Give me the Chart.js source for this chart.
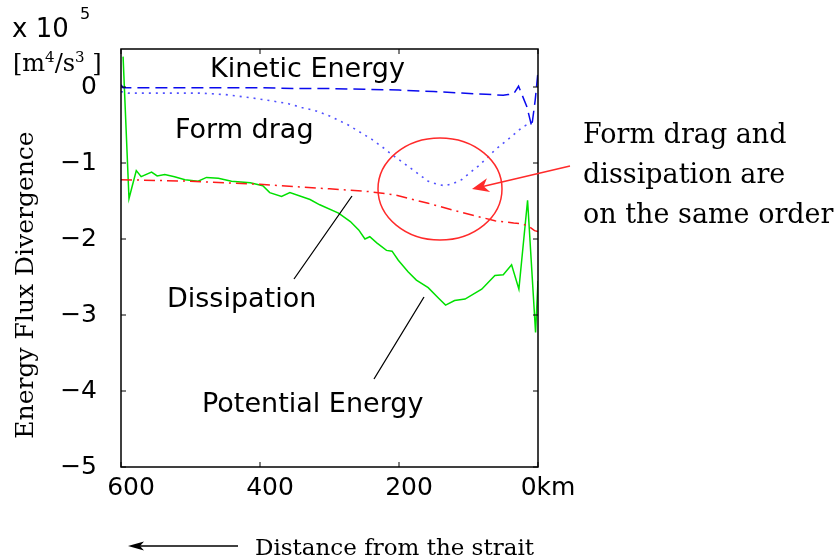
<!DOCTYPE html>
<html>
<head>
<meta charset="utf-8">
<title>Energy Flux Divergence</title>
<script src="https://cdn.jsdelivr.net/npm/chart.js"></script>
<style>
  html, body { margin: 0; padding: 0; background: #fff; }
</style>
</head>
<body>
<canvas id="fluxChart" width="840" height="560"></canvas>
<script>
// distance from the strait (km) and energy flux divergence (x 10^5 m4/s3)
const keDist = [600, 597, 560, 500, 450, 400, 350, 300, 250, 200, 150, 110, 75, 50, 43, 35, 28, 16, 9, 4, 0];
const keVal  = [0.03, -0.01, -0.01, -0.01, -0.01, -0.01, -0.02, -0.02, -0.03, -0.04, -0.06, -0.08, -0.095, -0.11, -0.10, -0.09, 0.01, -0.26, -0.52, -0.17, 0.2];

const fdDist = [600, 590, 540, 486, 450, 414, 385, 359, 340, 321, 300, 273, 255, 239, 224, 210, 195, 177, 158, 145, 134, 122, 110, 98, 86, 74, 62, 50, 38, 28, 21, 12, 8];
const fdVal  = [-0.06, -0.08, -0.08, -0.08, -0.10, -0.14, -0.18, -0.22, -0.27, -0.31, -0.38, -0.50, -0.60, -0.69, -0.79, -0.89, -0.99, -1.11, -1.24, -1.28, -1.30, -1.27, -1.22, -1.13, -1.04, -0.94, -0.83, -0.74, -0.65, -0.57, -0.52, -0.48, -0.46];

const dsDist = [600, 550, 500, 450, 400, 350, 300, 250, 230, 206, 158, 110, 62, 35, 23, 14, 5, 0];
const dsVal  = [-1.22, -1.23, -1.24, -1.26, -1.28, -1.31, -1.34, -1.37, -1.39, -1.42, -1.53, -1.65, -1.76, -1.79, -1.80, -1.83, -1.89, -1.90];

const peDist = [597, 588.5, 584, 578, 571, 556, 548, 537, 523, 508, 489, 477, 460, 441, 414, 396, 386, 369, 357, 328, 314, 287, 270, 258, 249, 242, 232, 218, 210, 201, 187, 175, 158, 143, 133, 120, 105, 81, 62, 50, 38, 27.5, 15, 3.5, 0];
const peVal  = [0.40, -1.47, -1.31, -1.10, -1.18, -1.12, -1.17, -1.15, -1.18, -1.22, -1.24, -1.19, -1.20, -1.24, -1.26, -1.30, -1.39, -1.44, -1.39, -1.48, -1.55, -1.66, -1.77, -1.88, -2.00, -1.97, -2.05, -2.15, -2.16, -2.28, -2.43, -2.54, -2.64, -2.78, -2.87, -2.81, -2.79, -2.66, -2.48, -2.47, -2.34, -2.66, -1.49, -3.23, -2.55];

const xTicks = [600, 400, 200, 0];
const xTickLabels = ['600', '400', '200', '0km'];
const yTicks = [0, -1, -2, -3, -4, -5];

const pts = (xs, ys) => xs.map((x, i) => ({ x: x, y: ys[i] }));

// frame, inward ticks and all the hand-placed annotations
const overlay = {
  id: 'overlay',
  afterDraw(chart) {
    const c = chart.ctx, a = chart.chartArea;
    const sx = chart.scales.x, sy = chart.scales.y;
    c.save();

    c.strokeStyle = '#000';
    c.lineWidth = 1.5;
    c.strokeRect(a.left, a.top, a.right - a.left, a.bottom - a.top);
    c.lineWidth = 1;
    c.beginPath();
    xTicks.forEach(t => {
      const x = sx.getPixelForValue(t);
      c.moveTo(x, a.bottom); c.lineTo(x, a.bottom - 5);
      c.moveTo(x, a.top); c.lineTo(x, a.top + 5);
    });
    yTicks.forEach(t => {
      const y = sy.getPixelForValue(t);
      c.moveTo(a.left, y); c.lineTo(a.left + 5, y);
      c.moveTo(a.right, y); c.lineTo(a.right - 5, y);
    });
    c.stroke();

    // curve labels
    c.fillStyle = '#000';
    c.textAlign = 'left';
    c.textBaseline = 'alphabetic';
    c.font = '27px "DejaVu Sans"';
    c.fillText('Kinetic Energy', 210, 77);
    c.fillText('Form drag', 175, 138);
    c.fillText('Dissipation', 167, 307);
    c.fillText('Potential Energy', 202, 412);

    // leader lines
    c.strokeStyle = '#000';
    c.lineWidth = 1.3;
    c.beginPath();
    c.moveTo(352, 196); c.lineTo(294, 279);
    c.moveTo(424, 297); c.lineTo(374, 379);
    c.stroke();

    // exponent and units
    c.font = '26px "DejaVu Sans"';
    c.fillText('x 10', 12, 37);
    c.font = '16px "DejaVu Sans"';
    c.fillText('5', 80, 19);
    let ux = 13;
    const put = (s, size, base) => {
      c.font = size + 'px "DejaVu Serif"';
      c.fillText(s, ux, base);
      ux += c.measureText(s).width;
    };
    put('[m', 24, 71);
    put('4', 15, 62);
    put('/s', 24, 71);
    put('3', 15, 62);
    put(' ]', 24, 71);

    // axis titles
    c.font = '25px "DejaVu Serif"';
    c.save();
    c.translate(33, 285);
    c.rotate(-Math.PI / 2);
    c.textAlign = 'center';
    c.fillText('Energy Flux Divergence', 0, 0);
    c.restore();

    c.font = '23px "DejaVu Serif"';
    c.fillText('Distance from the strait', 255, 555);
    c.beginPath();
    c.moveTo(140, 546); c.lineTo(238, 546);
    c.stroke();
    c.beginPath();
    c.moveTo(128, 546); c.lineTo(144, 541.5); c.lineTo(140, 546); c.lineTo(144, 550.5);
    c.closePath();
    c.fill();

    // side note
    c.font = '27px "DejaVu Serif"';
    c.fillText('Form drag and', 583, 143);
    c.fillText('dissipation are', 583, 183);
    c.fillText('on the same order', 583, 223);

    // red ellipse and arrow
    c.strokeStyle = '#ff2a2a';
    c.fillStyle = '#ff2a2a';
    c.lineWidth = 1.5;
    c.beginPath();
    c.ellipse(440, 189, 62, 51, 0, 0, Math.PI * 2);
    c.stroke();
    const x0 = 570, y0 = 166, x1 = 472, y1 = 189;
    const ang = Math.atan2(y1 - y0, x1 - x0);
    c.beginPath();
    c.moveTo(x0, y0); c.lineTo(x1 - 10 * Math.cos(ang), y1 - 10 * Math.sin(ang));
    c.stroke();
    const L = 17, W = 7;
    const bx = x1 - L * Math.cos(ang), by = y1 - L * Math.sin(ang);
    const nx = x1 - 0.7 * L * Math.cos(ang), ny = y1 - 0.7 * L * Math.sin(ang);
    c.beginPath();
    c.moveTo(x1, y1);
    c.lineTo(bx + W * Math.sin(ang), by - W * Math.cos(ang));
    c.lineTo(nx, ny);
    c.lineTo(bx - W * Math.sin(ang), by + W * Math.cos(ang));
    c.closePath();
    c.fill();

    c.restore();
  }
};

new Chart(document.getElementById('fluxChart'), {
  type: 'line',
  data: {
    datasets: [
      { label: 'Kinetic Energy', data: pts(keDist, keVal), borderColor: '#0a0aee', borderWidth: 1.5, borderDash: [12, 6] },
      { label: 'Form drag', data: pts(fdDist, fdVal), borderColor: '#5050ff', borderWidth: 1.6, borderDash: [2, 5] },
      { label: 'Dissipation', data: pts(dsDist, dsVal), borderColor: '#ff1a1a', borderWidth: 1.5, borderDash: [11, 5, 2, 5] },
      { label: 'Potential Energy', data: pts(peDist, peVal), borderColor: '#00e000', borderWidth: 1.5 }
    ]
  },
  options: {
    responsive: false,
    animation: false,
    devicePixelRatio: 1,
    layout: { padding: { top: 49, right: 302, left: 0, bottom: 0 } },
    elements: { point: { radius: 0 }, line: { tension: 0, fill: false } },
    plugins: { legend: { display: false }, tooltip: { enabled: false } },
    scales: {
      x: {
        type: 'linear', reverse: true, min: 0, max: 600,
        grid: { display: false, drawTicks: false },
        border: { display: false },
        afterBuildTicks: s => { s.ticks = xTicks.map(v => ({ value: v })); },
        afterFit: s => { s.height = 93; },
        ticks: {
          callback: v => xTickLabels[xTicks.indexOf(v)],
          font: { family: 'DejaVu Sans', size: 25 }, color: '#000',
          padding: 6, labelOffset: 10, maxRotation: 0, autoSkip: false
        }
      },
      y: {
        type: 'linear', min: -5, max: 0.5,
        grid: { display: false, drawTicks: false },
        border: { display: false },
        afterBuildTicks: s => { s.ticks = yTicks.map(v => ({ value: v })); },
        afterFit: s => { s.width = 121; },
        ticks: {
          callback: v => v === 0 ? '0' : '\u2212' + Math.abs(v),
          font: { family: 'DejaVu Sans', size: 25 }, color: '#000',
          padding: 24, autoSkip: false
        }
      }
    }
  },
  plugins: [overlay]
});
</script>
</body>
</html>
